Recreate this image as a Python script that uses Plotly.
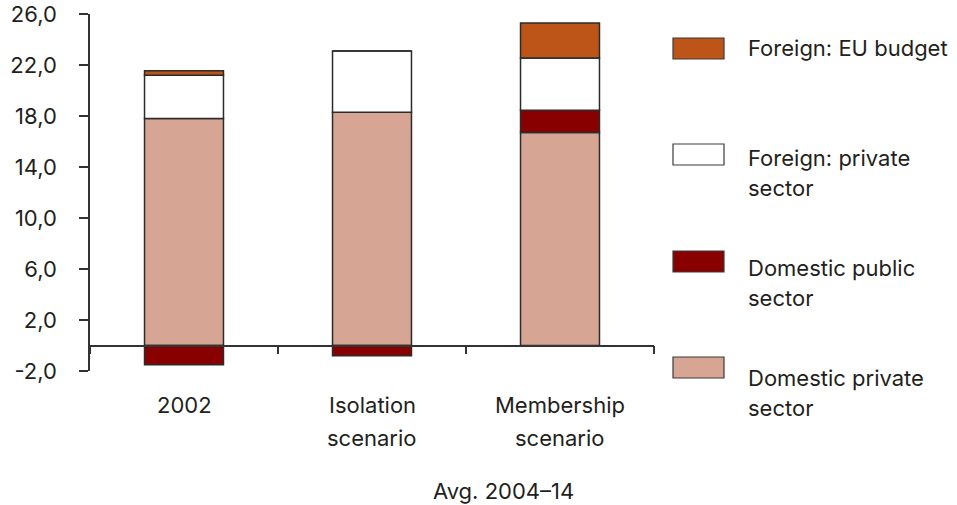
import plotly.graph_objects as go

# Categories and series values (% of GDP, stacked)
categories = ["2002", "Isolation<br>scenario", "Membership<br>scenario"]
domestic_private = [17.8, 18.3, 16.7]
domestic_public = [-1.5, -0.8, 1.75]
foreign_private = [3.4, 4.8, 4.1]
foreign_eu = [0.35, 0.0, 2.75]

y_tick_vals = [-2, 2, 6, 10, 14, 18, 22, 26]
y_tick_text = ["-2,0", "2,0", "6,0", "10,0", "14,0", "18,0", "22,0", "26,0"]
x_title = "Avg. 2004–14"

series = [
    ("Domestic private sector", domestic_private, "#D7A593"),
    ("Domestic public sector", domestic_public, "#890000"),
    ("Foreign: private sector", foreign_private, "#FFFFFF"),
    ("Foreign: EU budget", foreign_eu, "#BE5518"),
]

W, H = 957, 505
L, R, T, B = 90, 303, 14, 134
PW, PH = W - L - R, H - T - B
FONT = "Inter, Lato, sans-serif"
TXT = "#231F20"
EDGE = "#2B2B2B"


def px_x(p):
    return (p - L) / PW


def px_y(p):
    return (H - B - p) / PH


fig = go.Figure()
for name, vals, col in series:
    fig.add_trace(go.Bar(
        x=categories, y=vals, name=name, width=0.42,
        marker=dict(color=col, line=dict(color=EDGE, width=1.5)),
        showlegend=False,
    ))

ymin, ymax = -2, 26

# Legend drawn as large swatches with wrapped labels
legend_items = [
    ("#BE5518", 38, ["Foreign: EU budget"], [48]),
    ("#FFFFFF", 144, ["Foreign: private", "sector"], [158, 188]),
    ("#890000", 251, ["Domestic public", "sector"], [268, 298]),
    ("#D7A593", 357, ["Domestic private", "sector"], [378, 408]),
]
shapes = []
annotations = []
for col, top, lines, ys in legend_items:
    shapes.append(dict(
        type="rect", xref="paper", yref="paper",
        x0=px_x(673), x1=px_x(724), y0=px_y(top + 21), y1=px_y(top),
        fillcolor=col, line=dict(color="#3A3A3A", width=1.2),
    ))
    for line, yc in zip(lines, ys):
        annotations.append(dict(
            xref="paper", yref="paper", x=px_x(746), y=px_y(yc),
            xanchor="left", yanchor="middle", text=line, showarrow=False,
            font=dict(family=FONT, size=22, color=TXT),
        ))

# Category labels, one annotation per text line for wider line spacing
for idx, cat in enumerate(categories):
    for i, part in enumerate(cat.split("<br>")):
        annotations.append(dict(
            xref="x", yref="paper", x=idx, y=px_y(405 + 33 * i),
            xanchor="center", yanchor="middle", text=part, showarrow=False,
            font=dict(family=FONT, size=22, color=TXT),
        ))

annotations.append(dict(
    xref="paper", yref="paper", x=px_x(503), y=px_y(491),
    xanchor="center", yanchor="middle", text=x_title, showarrow=False,
    font=dict(family=FONT, size=22, color=TXT),
))

fig.update_layout(
    width=W, height=H,
    margin=dict(l=L, r=R, t=T, b=B),
    paper_bgcolor="white", plot_bgcolor="white",
    barmode="relative",
    font=dict(family=FONT, size=22, color=TXT),
    shapes=shapes, annotations=annotations,
    xaxis=dict(
        type="category", range=[-0.5, 2.5], automargin=False,
        anchor="free", position=(0 - ymin) / (ymax - ymin),
        showline=True, linecolor="#333333", linewidth=1.5,
        ticks="outside", ticklen=8, tickwidth=1.5, tickcolor="#333333",
        tickson="boundaries", showgrid=False, zeroline=False,
        showticklabels=False,
    ),
    yaxis=dict(
        range=[ymin, ymax], tickvals=y_tick_vals, ticktext=y_tick_text,
        automargin=False,
        showline=True, linecolor="#333333", linewidth=1.5,
        ticks="outside", ticklen=9, tickwidth=1.5, tickcolor="#333333",
        showgrid=False, zeroline=False, ticklabelstandoff=18,
        tickfont=dict(family=FONT, size=22, color=TXT),
    ),
)

fig.write_html("out.html")
